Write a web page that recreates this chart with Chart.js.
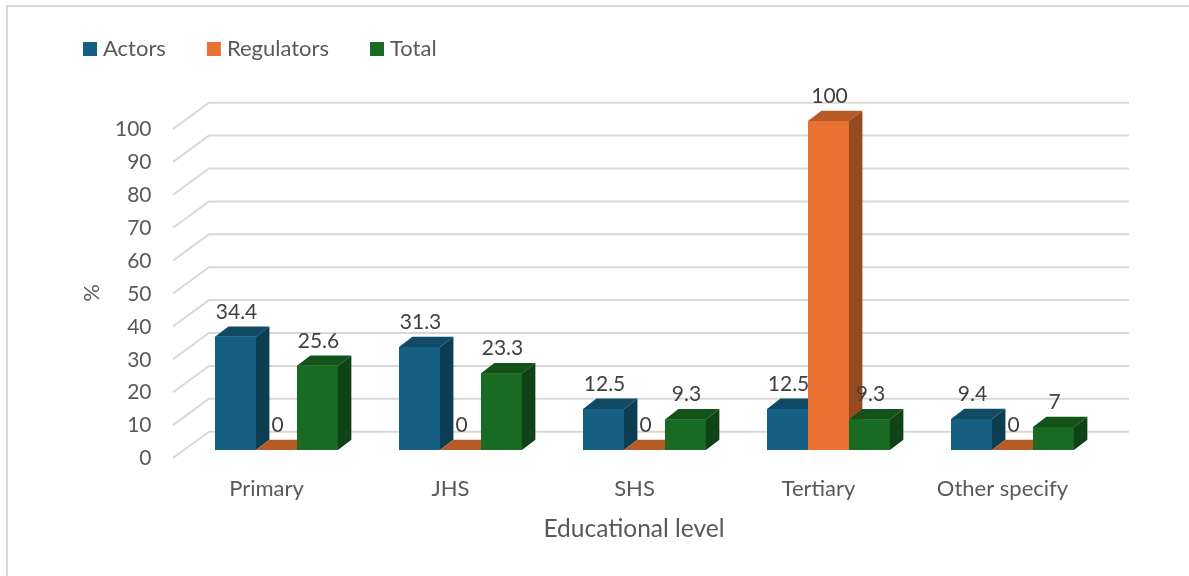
<!DOCTYPE html>
<html>
<head>
<meta charset="utf-8">
<title>Educational level</title>
<script src="https://cdn.jsdelivr.net/npm/chart.js@4"></script>
<style>
    html, body { margin: 0; padding: 0; background: #fff; overflow: hidden; }
    #frame { position: absolute; left: 6px; top: 5px; right: 0; bottom: 0; border-left: 2px solid #d9d9d9; border-top: 2px solid #d9d9d9; }
    #myChart { position: absolute; left: 0; top: 0; }
</style>
</head>
<body>
<div id="frame"></div>
<canvas id="myChart" width="1189" height="576"></canvas>
<script>
const categories = ['Primary', 'JHS', 'SHS', 'Tertiary', 'Other specify'];
const actors = [34.4, 31.3, 12.5, 12.5, 9.4];
const regulators = [0, 0, 0, 100, 0];
const total = [25.6, 23.3, 9.3, 9.3, 7];

const fontName = 'Lato, sans-serif';
const textColor = '#595959';
const labelColor = '#404040';
const gridColor = '#d9d9d9';

// fake 3D depth of the bars and the walls
const barDepth = { x: 13.4, y: 10.3 };
const wall = { frontX: -11.5, frontY: 8, backX: 24.5, backY: -18.3 };

function gridWalls(chart) {
    const ctx = chart.ctx;
    const area = chart.chartArea;
    const y = chart.scales.y;
    ctx.save();
    ctx.strokeStyle = gridColor;
    ctx.lineWidth = 2;
    y.ticks.forEach(t => {
        const py = y.getPixelForValue(t.value);
        ctx.beginPath();
        ctx.moveTo(area.left + wall.frontX, py + wall.frontY);
        ctx.lineTo(area.left + wall.backX, py + wall.backY);
        ctx.lineTo(area.right + wall.backX, py + wall.backY);
        ctx.stroke();
    });
    ctx.restore();
}

function drawFaces(ctx, bar, topColor, sideColor) {
    const half = bar.width / 2;
    const l = bar.x - half;
    const r = bar.x + half;
    ctx.fillStyle = topColor;
    ctx.beginPath();
    ctx.moveTo(l, bar.y);
    ctx.lineTo(l + barDepth.x, bar.y - barDepth.y);
    ctx.lineTo(r + barDepth.x, bar.y - barDepth.y);
    ctx.lineTo(r, bar.y);
    ctx.closePath();
    ctx.fill();
    if (bar.base - bar.y < 1) return;
    ctx.fillStyle = sideColor;
    ctx.beginPath();
    ctx.moveTo(r, bar.y);
    ctx.lineTo(r + barDepth.x, bar.y - barDepth.y);
    ctx.lineTo(r + barDepth.x, bar.base - barDepth.y);
    ctx.lineTo(r, bar.base);
    ctx.closePath();
    ctx.fill();
}

const bars3d = {
    id: 'bars3d',
    beforeDatasetsDraw(chart) {
        gridWalls(chart);
    },
    afterDatasetsDraw(chart) {
        const ctx = chart.ctx;
        const area = chart.chartArea;
        // left to right so each bar hides the side of the one before it
        chart.data.datasets.forEach((ds, i) => {
            chart.getDatasetMeta(i).data.forEach(bar => {
                drawFaces(ctx, bar, ds.topColor, ds.sideColor);
                bar.draw(ctx);
            });
        });
        ctx.save();
        ctx.font = '21px ' + fontName;
        ctx.fillStyle = labelColor;
        ctx.textAlign = 'center';
        ctx.textBaseline = 'middle';
        chart.data.datasets.forEach((ds, i) => {
            chart.getDatasetMeta(i).data.forEach((bar, j) => {
                ctx.fillText(String(ds.data[j]), bar.x + 1, bar.y - 25);
            });
        });
        // axis titles sit off the plot centre, so the scale's own title can't place them
        ctx.fillStyle = textColor;
        ctx.font = '24.5px ' + fontName;
        ctx.fillText('Educational level', (area.left + area.right) / 2 - 10.5, 529);
        ctx.font = '22px ' + fontName;
        ctx.translate(92, (area.top + area.bottom) / 2 + 7.5);
        ctx.rotate(-Math.PI / 2);
        ctx.fillText('%', 0, 0);
        ctx.restore();
    }
};

const legendGap = {
    id: 'legendGap',
    beforeInit(chart) {
        const fit = chart.legend.fit;
        chart.legend.fit = function () {
            fit.call(this);
            this.height += 51;
        };
    }
};

const ctx = document.getElementById('myChart').getContext('2d');
const myChart = new Chart(ctx, {
    type: 'bar',
    data: {
        labels: categories,
        datasets: [
            { label: 'Actors', data: actors, backgroundColor: '#156082', topColor: '#104a65', sideColor: '#0c3d52' },
            { label: 'Regulators', data: regulators, backgroundColor: '#e97132', topColor: '#b85a25', sideColor: '#97491f' },
            { label: 'Total', data: total, backgroundColor: '#196b24', topColor: '#135219', sideColor: '#0f4214' }
        ]
    },
    options: {
        responsive: false,
        animation: false,
        categoryPercentage: 0.668,
        barPercentage: 1,
        layout: { padding: { left: 42, right: 84.5, top: -8, bottom: 10 } },
        plugins: {
            tooltip: { enabled: false },
            legend: {
                position: 'top',
                align: 'start',
                labels: {
                    usePointStyle: true,
                    pointStyle: 'rect',
                    boxWidth: 4,
                    boxHeight: 14,
                    padding: 46,
                    color: textColor,
                    font: { family: fontName, size: 22 }
                }
            }
        },
        scales: {
            x: {
                grid: { display: false },
                border: { display: false },
                afterFit(scale) { scale.height = 116; },
                ticks: {
                    color: textColor,
                    padding: 18,
                    labelOffset: -10,
                    maxRotation: 0,
                    font: { family: fontName, size: 22 }
                }
            },
            y: {
                min: 0,
                max: 100,
                grid: { display: false },
                border: { display: false },
                afterFit(scale) { scale.width = 142.5; },
                ticks: {
                    stepSize: 10,
                    color: textColor,
                    padding: 25,
                    labelOffset: 8.5,
                    font: { family: fontName, size: 21 }
                }
            }
        }
    },
    plugins: [legendGap, bars3d]
});
</script>
</body>
</html>
